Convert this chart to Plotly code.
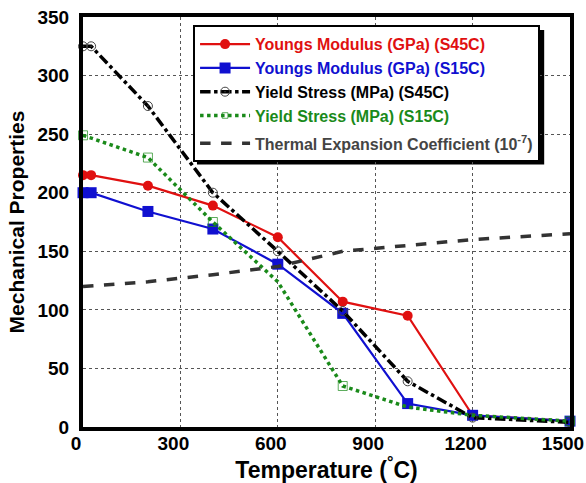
import plotly.graph_objects as go

# Temperatures (°C) for each measured series
temp_ym45 = [0, 25, 200, 400, 600, 800, 1000, 1200, 1500]
ym_s45c = [215, 215, 206, 189, 162, 107, 95, 10, 5]

temp_ym15 = [0, 25, 200, 400, 600, 800, 1000, 1200, 1500]
ym_s15c = [200, 200, 184, 169, 139, 97, 20, 10, 5]

temp_ys45 = [0, 25, 200, 400, 600, 800, 1000, 1200, 1500]
ys_s45c = [325, 325, 274, 200, 150, 99, 39, 8, 4]

temp_ys15 = [0, 200, 400, 600, 800, 1000, 1200, 1500]
ys_s15c = [249, 230, 175, 124, 35, 17, 10, 5]
ys_s15c_marked = [True, True, True, False, True, False, False, True]

temp_cte = [0, 200, 400, 600, 800, 1000, 1200, 1500]
cte = [120, 124, 130, 137, 150, 155, 160, 165]

x_ticks = [0, 300, 600, 900, 1200, 1500]
y_ticks = [0, 50, 100, 150, 200, 250, 300, 350]

FONT = "Liberation Sans, Arial, sans-serif"

fig = go.Figure()

fig.add_trace(go.Scatter(
    x=temp_ym45, y=ym_s45c, mode="lines+markers",
    name="Youngs Modulus (GPa) (S45C)", legendgroup="a",
    line=dict(color="#e01010", width=2.2),
    marker=dict(symbol="circle", size=10, color="#e01010"),
    cliponaxis=False,
))
fig.add_trace(go.Scatter(
    x=temp_ym15, y=ym_s15c, mode="lines+markers",
    name="Youngs Modulus (GPa) (S15C)", legendgroup="a",
    line=dict(color="#1010d0", width=2.2),
    marker=dict(symbol="square", size=11, color="#1010d0"),
    cliponaxis=False,
))
fig.add_trace(go.Scatter(
    x=temp_ys45, y=ys_s45c, mode="lines+markers",
    name="Yield Stress (MPa) (S45C)", legendgroup="a",
    line=dict(color="black", width=3.5, dash="dashdot"),
    marker=dict(symbol="circle-open-dot", size=9, color="#444",
                line=dict(width=1)),
    cliponaxis=False,
))
fig.add_trace(go.Scatter(
    x=temp_ys15, y=ys_s15c, mode="lines+markers",
    name="Yield Stress (MPa) (S15C)", legendgroup="a",
    line=dict(color="#1a8a1a", width=3.5, dash="dot"),
    marker=dict(symbol="square-open", color="#1a8a1a",
                size=[9 if m else 0 for m in ys_s15c_marked],
                line=dict(width=1)),
    cliponaxis=False,
))
fig.add_trace(go.Scatter(
    x=temp_cte, y=cte, mode="lines",
    name="Thermal Expansion Coefficient (10<sup>-7</sup>)", legendgroup="b",
    line=dict(color="#333333", width=3.5, dash="dash"),
    cliponaxis=False,
))

# legend text colours per series
colors = ["#e01010", "#1010d0", "black", "#1a8a1a", "#444"]
for tr, c in zip(fig.data, colors):
    tr.update(name=f'<span style="color:{c}"><b>{tr.name}</b></span>')

# legend drop shadow
fig.add_shape(type="rect", xref="paper", yref="paper",
              x0=0.234, x1=0.947, y0=0.640, y1=0.968,
              fillcolor="black", line=dict(width=0), layer="below")

fig.update_layout(
    width=586, height=483,
    margin=dict(l=83, r=16, t=17, b=56, autoexpand=False),
    paper_bgcolor="white", plot_bgcolor="white",
    font=dict(family=FONT, color="black"),
    showlegend=True,
    legend=dict(
        x=0.226, y=0.98, xanchor="left", yanchor="top",
        bgcolor="white", bordercolor="black", borderwidth=2,
        font=dict(size=16, family=FONT),
        tracegroupgap=4, itemwidth=50,
    ),
    xaxis=dict(
        range=[0, 1500], tickvals=x_ticks,
        ticktext=[f"<b>{v}</b>" for v in x_ticks],
        tickfont=dict(size=19, family=FONT),
        ticklabeloverflow="allow", automargin=False,
        ticklabelshift=-7, ticklabelstandoff=-4,
        showgrid=True, gridcolor="#555", griddash="dot", gridwidth=1,
        showline=True, linecolor="black", linewidth=4, mirror=True,
        ticks="", zeroline=False,
        title=dict(text="<b>Temperature (<sup>°</sup>C)</b>",
                   font=dict(size=23, family=FONT), standoff=10),
    ),
    yaxis=dict(
        range=[0, 350], tickvals=y_ticks,
        ticktext=[f"<b>{v}</b>" for v in y_ticks],
        tickfont=dict(size=19, family=FONT),
        ticklabeloverflow="allow", automargin=False,
        ticklabelstandoff=6,
        showgrid=True, gridcolor="#555", griddash="dot", gridwidth=1,
        showline=True, linecolor="black", linewidth=4, mirror=True,
        ticks="", zeroline=False,
        title=dict(text="<b>Mechanical Properties</b>",
                   font=dict(size=21, family=FONT), standoff=8),
    ),
)

fig.write_html("out.html")
